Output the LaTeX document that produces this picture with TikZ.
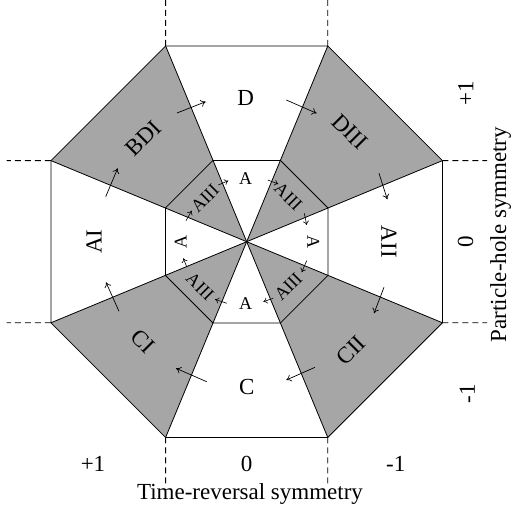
\documentclass[tikz,border=0pt]{standalone}
\usepackage{fontspec}
\setmainfont{Liberation Serif}
\usetikzlibrary{arrows.meta}
\definecolor{greyfill}{RGB}{166,166,166}
\begin{document}
\begin{tikzpicture}[x=1pt,y=1pt,
  edge/.style={line width=0.8pt, line join=miter},
  dashline/.style={line width=0.8pt, dash pattern=on 6pt off 4pt},
  arr/.style={-{To[length=5pt,width=7pt]}, line width=0.7pt},
  iarr/.style={-{To[length=4pt,width=6pt]}, line width=0.6pt},
  big/.style={font=\fontsize{23}{27}\selectfont, inner sep=0pt},
  small/.style={font=\fontsize{18}{21}\selectfont, inner sep=0pt}]
\useasboundingbox (-246.7,-272.3) rectangle (267.3,241.7);
\coordinate (c) at (0,0);
\foreach \i in {0,...,7} {
  \coordinate (O\i) at ({22.5+45*\i}:211.88);
  \coordinate (I\i) at ({22.5+45*\i}:88.0);
}
% shaded sectors
\fill[greyfill] (c) -- (O0) -- (O1) -- cycle;
\fill[greyfill] (c) -- (O2) -- (O3) -- cycle;
\fill[greyfill] (c) -- (O4) -- (O5) -- cycle;
\fill[greyfill] (c) -- (O6) -- (O7) -- cycle;
% octagons and rays
\draw[edge] (O0) -- (O1) -- (O2) -- (O3) -- (O4) -- (O5) -- (O6) -- (O7) -- cycle;
\draw[edge] (I0) -- (I1) -- (I2) -- (I3) -- (I4) -- (I5) -- (I6) -- (I7) -- cycle;
\foreach \i in {0,...,7} { \draw[edge] (c) -- (O\i); }
% dashed extensions
\coordinate (d1) at (-81.08,241.7);
\coordinate (d2) at (81.08,241.7);
\coordinate (d3) at (-240,81.08);
\coordinate (d4) at (-240,-81.08);
\coordinate (d5) at (240.3,81.08);
\coordinate (d6) at (240.3,-81.08);
\coordinate (d7) at (-81.08,-242.3);
\coordinate (d8) at (81.08,-242.3);
\draw[dashline] (O2) -- (d1);
\draw[dashline] (O1) -- (d2);
\draw[dashline] (O3) -- (d3);
\draw[dashline] (O4) -- (d4);
\draw[dashline] (O0) -- (d5);
\draw[dashline] (O7) -- (d6);
\draw[dashline] (O5) -- (d7);
\draw[dashline] (O6) -- (d8);
% outer labels
\node[big] (lD) at (-1,144) {D};
\node[big, rotate=-45] (lDIII) at (103.3,110) {DIII};
\node[big, rotate=-90] (lAII) at (142.3,0) {AII};
\node[big, rotate=45] (lCII) at (104,-109) {CII};
\node[big] (lC) at (0,-145.6) {C};
\node[big, rotate=-45] (lCI) at (-103.4,-100) {CI};
\node[big, rotate=90] (lAI) at (-152.7,0) {AI};
\node[big, rotate=45] (lBDI) at (-103.4,103.4) {BDI};
% inner labels
\node[small] (iAt) at (-1,63.4) {A};
\node[small, rotate=-90] (iAr) at (66.6,0) {A};
\node[small] (iAb) at (-1,-61.6) {A};
\node[small, rotate=90] (iAl) at (-66,0) {A};
\node[small, rotate=45] (iTL) at (-41.7,43.4) {AIII};
\node[small, rotate=-45] (iTR) at (41.6,45) {AIII};
\node[small, rotate=-45] (iBL) at (-46.7,-45) {AIII};
\node[small, rotate=45] (iBR) at (41.6,-45) {AIII};
% outer arrows
\coordinate (a1s) at (-69.7,128.7);  \coordinate (a1e) at (-41,140);
\coordinate (a2s) at (39.6,141.7);   \coordinate (a2e) at (70,128.4);
\coordinate (a3s) at (132.3,68.4);   \coordinate (a3e) at (140.6,42.4);
\coordinate (a4s) at (137.3,-45.6);  \coordinate (a4e) at (127.3,-71.6);
\coordinate (a5s) at (68.3,-125.6);  \coordinate (a5e) at (39.6,-138.3);
\coordinate (a6s) at (-40,-140);     \coordinate (a6e) at (-70.7,-126.6);
\coordinate (a7s) at (-127.7,-69.6); \coordinate (a7e) at (-140.7,-40.6);
\coordinate (a8s) at (-141,45);      \coordinate (a8e) at (-129,73.4);
\foreach \k in {1,...,8} { \draw[arr] (a\k s) -- (a\k e); }
% inner arrows
\coordinate (b1s) at (-28.4,56.7);  \coordinate (b1e) at (-18.4,61);
\coordinate (b2s) at (21,61.7);     \coordinate (b2e) at (31.6,57.7);
\coordinate (b3s) at (57.6,28.4);   \coordinate (b3e) at (60,16.7);
\coordinate (b4s) at (60,-19);      \coordinate (b4e) at (55,-30.6);
\coordinate (b5s) at (26.6,-56.6);  \coordinate (b5e) at (16.6,-60);
\coordinate (b6s) at (-20,-61.6);   \coordinate (b6e) at (-31.7,-57.6);
\coordinate (b7s) at (-60,-25);     \coordinate (b7e) at (-63.4,-16.6);
\coordinate (b8s) at (-60.7,21);    \coordinate (b8e) at (-55,31);
\foreach \k in {1,...,8} { \draw[iarr] (b\k s) -- (b\k e); }
% axis labels
\node[big] (tp) at (-153.7,-222.3) {+1};
\node[big] (tz) at (0,-222.3) {0};
\node[big] (tm) at (149,-222.3) {-1};
\node[big] (tt) at (3.3,-252.3) {Time-reversal symmetry};
\node[big, rotate=90] (pp) at (219,148.4) {+1};
\node[big, rotate=90] (pz) at (218.8,0) {0};
\node[big, rotate=90] (pm) at (220.6,-152.3) {-1};
\node[big, rotate=90] (pt) at (254,7.2) {Particle-hole symmetry};
\end{tikzpicture}
\end{document}
